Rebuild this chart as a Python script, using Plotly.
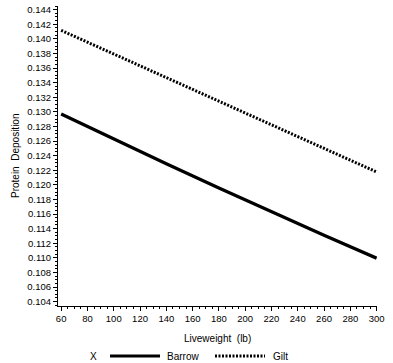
import plotly.graph_objects as go

liveweight = [60, 100, 140, 180, 220, 260, 300]
barrow = [0.12970, 0.12627, 0.12289, 0.11957, 0.11630, 0.11310, 0.10995]
gilt = [0.14116, 0.13793, 0.13469, 0.13146, 0.12823, 0.12499, 0.12176]
series_names = ["Barrow", "Gilt"]
legend_title = "X"
x_title = "Liveweight  (lb)"
y_title = "Protein  Deposition"

FONT = "Liberation Sans, Arial, sans-serif"
W, H = 393, 363
L, R, T, B = 58, 16, 6, 57
PW, PH = W - L - R, H - T - B

def px(xp):
    return (xp - L) / PW

def py(yp):
    return (H - B - yp) / PH

GILT_DASH = "2px,1.5px"

fig = go.Figure()
fig.add_trace(go.Scatter(x=liveweight, y=barrow, mode="lines", name=series_names[0],
                         line=dict(color="black", width=3.2)))
fig.add_trace(go.Scatter(x=liveweight, y=gilt, mode="lines", name=series_names[1],
                         line=dict(color="black", width=3, dash=GILT_DASH)))

# manual legend (bottom)
ly = py(356)
shapes = [
    dict(type="line", xref="paper", yref="paper", x0=px(110), x1=px(160), y0=ly, y1=ly,
         line=dict(color="black", width=3.2)),
    dict(type="line", xref="paper", yref="paper", x0=px(215), x1=px(265), y0=ly, y1=ly,
         line=dict(color="black", width=3, dash=GILT_DASH)),
]
annotations = [
    dict(text=legend_title, x=px(88), y=ly, xref="paper", yref="paper", xanchor="left",
         yanchor="middle", showarrow=False, font=dict(size=10)),
    dict(text=series_names[0], x=px(165), y=ly, xref="paper", yref="paper", xanchor="left",
         yanchor="middle", showarrow=False, font=dict(size=10)),
    dict(text=series_names[1], x=px(271), y=ly, xref="paper", yref="paper", xanchor="left",
         yanchor="middle", showarrow=False, font=dict(size=10)),
    dict(text=x_title, x=0.5, y=py(338), xref="paper", yref="paper", xanchor="center",
         yanchor="middle", showarrow=False, font=dict(size=10)),
    dict(text=y_title, x=px(15), y=py(156), xref="paper", yref="paper", xanchor="center",
         yanchor="middle", showarrow=False, textangle=-90, font=dict(size=10)),
]

fig.update_layout(
    width=W, height=H,
    margin=dict(l=L, r=R, t=T, b=B),
    paper_bgcolor="white", plot_bgcolor="white",
    font=dict(family=FONT, size=10, color="black"),
    showlegend=False,
    shapes=shapes, annotations=annotations,
    xaxis=dict(range=[57.6, 300.3], tickmode="linear", tick0=60, dtick=20, automargin=False,
               showgrid=False, zeroline=False, showline=True, linecolor="black", linewidth=1,
               ticks="outside", ticklen=4, tickcolor="black",
               minor=dict(dtick=5, tick0=60, ticks="outside", ticklen=2, tickcolor="black", showgrid=False),
               tickfont=dict(size=9.5)),
    yaxis=dict(range=[0.1034, 0.1445], tickmode="linear", tick0=0.104, dtick=0.002, automargin=False,
               tickformat=".3f",
               showgrid=False, zeroline=False, showline=True, linecolor="black", linewidth=1,
               ticks="outside", ticklen=4, tickcolor="black",
               minor=dict(dtick=0.0005, ticks="outside", ticklen=2, tickcolor="black", showgrid=False),
               tickfont=dict(size=9.5)),
)

fig.write_html("out.html", config={"displayModeBar": False},
               post_script="document.body.style.margin='0';document.body.style.overflow='hidden';")
